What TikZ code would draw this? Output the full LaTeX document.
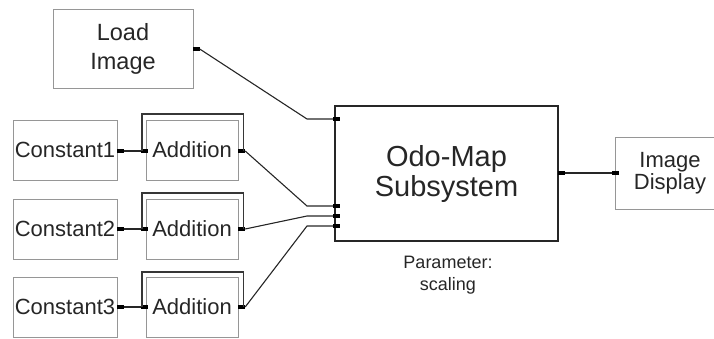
\documentclass[tikz,border=0pt]{standalone}
\usepackage{fontspec}
\setmainfont{Liberation Sans}
\definecolor{boxgray}{RGB}{150,150,150}
\definecolor{loopgray}{RGB}{55,55,55}
\tikzset{
  block/.style={draw=boxgray, line width=0.9pt, inner sep=0pt, align=center, text=black!85},
  bigblock/.style={draw=black!85, line width=1.4pt, inner sep=0pt, align=center, text=black!85},
  port/.style={fill=black, draw=none, inner sep=0pt, minimum width=7pt, minimum height=4pt},
  wire/.style={draw=black!85, line width=1.1pt},
  feedback/.style={draw=loopgray, line width=1.5pt},
}
\begin{document}
\begin{tikzpicture}[x=1pt, y=-1pt]
\useasboundingbox (0,0) rectangle (714,338);
\clip (0,0) rectangle (714,338);

% source blocks
\node[block, minimum width=140pt, minimum height=79pt, font=\fontsize{23.5}{29}\selectfont] (load) at (123,48.5) {Load\\Image};
\node[block, minimum width=104pt, minimum height=60pt, font=\fontsize{22}{26}\selectfont] (c1) at (65,150) {Constant1};
\node[block, minimum width=104pt, minimum height=60pt, font=\fontsize{22}{26}\selectfont] (c2) at (65,229) {Constant2};
\node[block, minimum width=104pt, minimum height=60pt, font=\fontsize{22}{26}\selectfont] (c3) at (65,307) {Constant3};

% adders
\node[block, minimum width=92pt, minimum height=60pt, font=\fontsize{22}{26}\selectfont] (a1) at (192,150) {Addition};
\node[block, minimum width=92pt, minimum height=60pt, font=\fontsize{22}{26}\selectfont] (a2) at (192,229) {Addition};
\node[block, minimum width=92pt, minimum height=60pt, font=\fontsize{22}{26}\selectfont] (a3) at (192,307) {Addition};

% subsystem and display
\node[bigblock, minimum width=223pt, minimum height=135pt, font=\fontsize{29}{30}\selectfont] (odo) at (446.5,173.5) {Odo-Map\\Subsystem};
\node[block, minimum width=110pt, minimum height=72pt, font=\fontsize{22}{21.5}\selectfont] (disp) at (670,173) {Image\\Display};
\node[align=center, inner sep=0pt, text=black!85, font=\fontsize{18}{22}\selectfont] (param) at (448,275) {Parameter:\\scaling};

% ports
\node[port] (lo) at (196,49) {};
\node[port] (c1o) at (120,151) {};
\node[port] (c2o) at (120,229) {};
\node[port] (c3o) at (120,307) {};
\node[port] (a1i) at (144.5,151) {};
\node[port] (a2i) at (144.5,229) {};
\node[port] (a3i) at (144.5,307) {};
\node[port] (a1o) at (241.5,151) {};
\node[port] (a2o) at (241.5,229) {};
\node[port] (a3o) at (241.5,307) {};
\node[port] (oi1) at (336.5,119) {};
\node[port] (oi2) at (336.5,206) {};
\node[port] (oi3) at (336.5,216) {};
\node[port] (oi4) at (336.5,226) {};
\node[port] (oo) at (561.5,173) {};
\node[port] (di) at (615.5,173) {};

% bends in front of the subsystem inputs
\coordinate (k1) at (307,119);
\coordinate (k2) at (307,206);
\coordinate (k3) at (307,216);
\coordinate (k4) at (307,226);

% feedback loop tops
\coordinate (t1) at (192,114);
\coordinate (t2) at (192,193);
\coordinate (t3) at (192,272);

% wires
\draw[wire] (c1o.east) -- (a1i.west);
\draw[wire] (c2o.east) -- (a2i.west);
\draw[wire] (c3o.east) -- (a3i.west);
\draw[wire] (lo.east) -- (k1) -- (oi1.west);
\draw[wire] (a1o.east) -- (k2) -- (oi2.west);
\draw[wire] (a2o.east) -- (k3) -- (oi3.west);
\draw[wire] (a3o.east) -- (k4) -- (oi4.west);
\draw[wire] (oo.east) -- (di.west);

% feedback brackets
\draw[feedback] ([xshift=1pt]a1i.west) |- (t1) -| ([xshift=-1.5pt]a1o.east);
\draw[feedback] ([xshift=1pt]a2i.west) |- (t2) -| ([xshift=-1.5pt]a2o.east);
\draw[feedback] ([xshift=1pt]a3i.west) |- (t3) -| ([xshift=-1.5pt]a3o.east);
\end{tikzpicture}
\end{document}
